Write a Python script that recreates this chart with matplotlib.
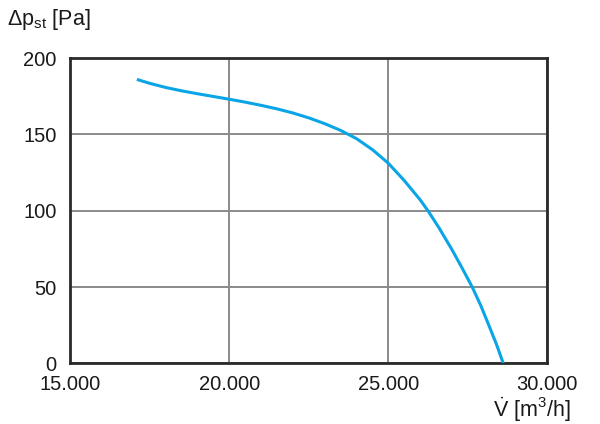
import matplotlib.pyplot as plt

plt.rcParams['font.family'] = ['Liberation Sans', 'DejaVu Sans']
plt.rcParams['mathtext.fontset'] = 'custom'
plt.rcParams['mathtext.rm'] = 'Liberation Sans'
plt.rcParams['mathtext.it'] = 'Liberation Sans'

# volume flow [m3/h] and static pressure [Pa]
flow = [17140, 17500, 18000, 18500, 19000, 19500, 20000, 20500, 21000,
        21500, 22000, 22500, 23000, 23500, 24000, 24500, 25000, 25500,
        26000, 26260, 26600, 27000, 27320, 27640, 27900, 28150, 28400, 28616]
dp = [185.7, 183.4, 180.7, 178.5, 176.6, 174.8, 173.0, 171.1, 169.0,
      166.7, 164.0, 160.8, 157.0, 152.6, 147.2, 140.0, 131.1, 119.8,
      107.2, 99.6, 88.6, 74.6, 62.5, 50.0, 38.3, 25.6, 12.6, 0.0]

xticks = [15000, 20000, 25000, 30000]
xlabels = ['15.000', '20.000', '25.000', '30.000']
yticks = [0, 50, 100, 150, 200]

fig = plt.figure(figsize=(6, 4.24), dpi=100)
ax = fig.add_axes([0.1172, 0.1427, 0.795, 0.7205])

ax.plot(flow, dp, color='#0AA5E6', lw=2.2, solid_joinstyle='round', zorder=3)

ax.set_xlim(15000, 30000)
ax.set_ylim(0, 200)
ax.set_xticks(xticks)
ax.set_xticklabels(xlabels)
ax.set_yticks(yticks)
ax.tick_params(length=0, labelsize=14.5, colors='#1a1a1a', pad=10)
ax.tick_params(axis='x', pad=8)
ax.grid(True, color='#8a8a8a', lw=1.4)
for s in ax.spines.values():
    s.set_color('#2a2a2a')
    s.set_linewidth(2)

fig.text(0.012, 0.955, r'$\Delta$p$_{\mathrm{st}}$ [Pa]', fontsize=15.5,
         ha='left', va='center', color='#1a1a1a')
fig.text(0.952, 0.034, r'$\dot{\mathrm{V}}$ [m$^3$/h]', fontsize=15.5,
         ha='right', va='center', color='#1a1a1a')

fig.savefig('out.png', dpi=100)
